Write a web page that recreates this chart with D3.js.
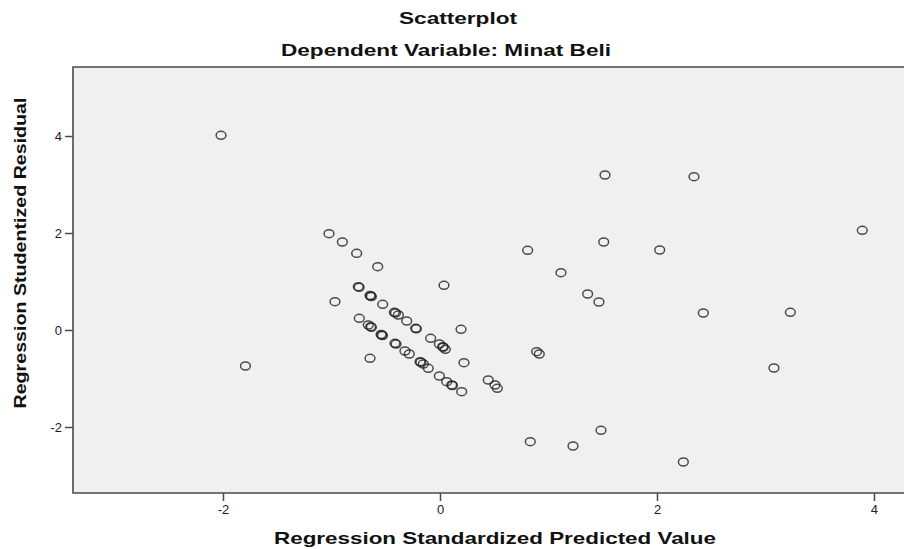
<!DOCTYPE html>
<html>
<head>
<meta charset="utf-8">
<script src="https://cdn.jsdelivr.net/npm/d3@7/dist/d3.min.js"></script>
<style>
  html, body { margin: 0; padding: 0; background: #ffffff; }
  svg { display: block; }
  text { font-family: "Liberation Sans", Arial, sans-serif; }
</style>
</head>
<body>
<svg id="chart" width="904" height="549"></svg>
<script>
// ---- Data ----
const chartTitle = "Scatterplot";
const chartSubtitle = "Dependent Variable: Minat Beli";
const xAxisTitle = "Regression Standardized Predicted Value";
const yAxisTitle = "Regression Studentized Residual";

const xTicks = [-2, 0, 2, 4];
const yTicks = [-2, 0, 2, 4];

// Regression Standardized Predicted Value
const predicted = [
  -2.018, -1.793, -1.023, -0.900, -0.768, -0.574, -0.968,
  -0.753, -0.745, -0.639, -0.632, -0.645, -0.528, -0.421, -0.410, -0.384, -0.307, -0.224, -0.218, -0.086, -0.006, 0.025, 0.030, 0.049,
  -0.744, -0.661, -0.639, -0.632, -0.537, -0.530, -0.543, -0.415, -0.405, -0.323, -0.283, -0.184, -0.176, -0.154, -0.108, -0.006, 0.062, 0.108, 0.115, 0.200, 0.445, 0.507, 0.528,
  -0.645, 0.194, 0.221, 0.037,
  1.521, 2.341, 3.892, 0.808, 1.509, 2.025, 1.115, 1.361, 1.465, 2.427, 3.229, 0.891, 0.915, 3.078, 0.832, 1.226, 1.484, 2.243
];

// Regression Studentized Residual
const residual = [
  4.014, -0.742, 1.986, 1.814, 1.581, 1.305, 0.584,
  0.893, 0.880, 0.701, 0.690, 0.712, 0.530, 0.365, 0.350, 0.309, 0.186, 0.035, 0.025, -0.171, -0.289, -0.344, -0.355, -0.398,
  0.241, 0.103, 0.068, 0.055, -0.103, -0.115, -0.092, -0.274, -0.290, -0.433, -0.495, -0.654, -0.665, -0.701, -0.790, -0.948, -1.066, -1.134, -1.145, -1.272, -1.031, -1.134, -1.202,
  -0.584, 0.014, -0.674, 0.921,
  3.196, 3.161, 2.055, 1.643, 1.814, 1.649, 1.182, 0.742, 0.577, 0.350, 0.364, -0.447, -0.495, -0.784, -2.302, -2.392, -2.069, -2.722
];

const xDomain = [-3.3825, 4.332];
const yDomain = [-3.361, 5.423];

// ---- Layout ----
const svg = d3.select("#chart");
const plot = { left: 73, right: 910, top: 67, bottom: 493 };

const x = d3.scaleLinear().domain(xDomain).range([plot.left, plot.right]);
const y = d3.scaleLinear().domain(yDomain).range([plot.bottom, plot.top]);

const points = predicted.map((p, i) => ({ x: p, y: residual[i] }));

// plot background
svg.append("rect")
  .attr("x", plot.left).attr("y", plot.top)
  .attr("width", plot.right - plot.left).attr("height", plot.bottom - plot.top)
  .attr("fill", "#f0f0f0");

// markers
svg.append("g")
  .selectAll("ellipse")
  .data(points)
  .join("ellipse")
  .attr("cx", d => x(d.x))
  .attr("cy", d => y(d.y))
  .attr("rx", 4.9)
  .attr("ry", 4.0)
  .attr("fill", "none")
  .attr("stroke", "#222")
  .attr("stroke-opacity", 0.8)
  .attr("stroke-width", 1.5);

// frame (left, top, bottom)
const frameColor = "#4a4a4a";
svg.append("path")
  .attr("d", `M${plot.right},${plot.top}H${plot.left}V${plot.bottom}H${plot.right}`)
  .attr("fill", "none")
  .attr("stroke", frameColor)
  .attr("stroke-width", 1.6);

// axes
const xAxis = svg.append("g")
  .attr("transform", `translate(0,${plot.bottom})`)
  .call(d3.axisBottom(x).tickValues(xTicks).tickSize(8).tickPadding(4).tickFormat(d3.format("d")));
const yAxis = svg.append("g")
  .attr("transform", `translate(${plot.left},0)`)
  .call(d3.axisLeft(y).tickValues(yTicks).tickSize(8).tickPadding(3).tickFormat(d3.format("d")));

[xAxis, yAxis].forEach(a => {
  a.select(".domain").remove();
  a.selectAll(".tick line").attr("stroke", frameColor).attr("stroke-width", 1.5);
  a.selectAll(".tick text")
    .attr("fill", "#222")
    .style("font-size", "13px")
    .style("font-family", "\"Liberation Sans\", Arial, sans-serif");
});
xAxis.selectAll(".tick text").text(d => d < 0 ? "-" + Math.abs(d) : d);
yAxis.selectAll(".tick text").text(d => d < 0 ? "-" + Math.abs(d) : d);

// titles
svg.append("text")
  .attr("x", 458).attr("y", 24)
  .attr("text-anchor", "middle")
  .attr("font-weight", "bold")
  .attr("font-size", 17)
  .attr("textLength", 118)
  .attr("lengthAdjust", "spacingAndGlyphs")
  .attr("fill", "#111")
  .text(chartTitle);

svg.append("text")
  .attr("x", 446).attr("y", 56)
  .attr("text-anchor", "middle")
  .attr("font-weight", "bold")
  .attr("font-size", 17)
  .attr("textLength", 330)
  .attr("lengthAdjust", "spacingAndGlyphs")
  .attr("fill", "#111")
  .text(chartSubtitle);

svg.append("text")
  .attr("x", 495).attr("y", 544)
  .attr("text-anchor", "middle")
  .attr("font-weight", "bold")
  .attr("font-size", 17)
  .attr("textLength", 442)
  .attr("lengthAdjust", "spacingAndGlyphs")
  .attr("fill", "#111")
  .text(xAxisTitle);

svg.append("text")
  .attr("transform", "translate(26,253) rotate(-90)")
  .attr("text-anchor", "middle")
  .attr("font-weight", "bold")
  .attr("font-size", 17)
  .attr("textLength", 311)
  .attr("lengthAdjust", "spacingAndGlyphs")
  .attr("fill", "#111")
  .text(yAxisTitle);
</script>
</body>
</html>
